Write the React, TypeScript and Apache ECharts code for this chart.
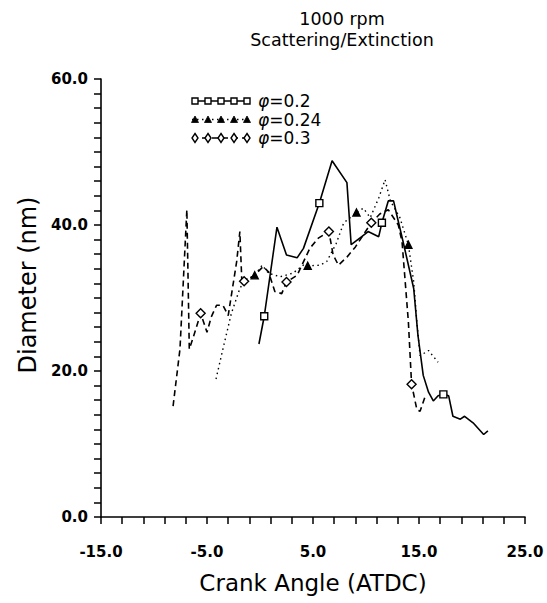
import React, { useEffect, useRef } from 'react';
import * as echarts from 'echarts';

// ---- texts ----
const TITLE_LINES = ['1000 rpm', 'Scattering/Extinction'];
const X_NAME = 'Crank Angle (ATDC)';
const Y_NAME = 'Diameter (nm)';
const PHI_VALUES = ['0.2', '0.24', '0.3'];

// ---- axes ----
const X_MIN = -15;
const X_MAX = 25;
const X_TICK_STEP = 2;
const X_LABEL_STEP = 10;
const Y_MIN = 0;
const Y_MAX = 60;
const Y_TICK_STEP = 2;
const Y_LABEL_STEP = 20;

// ---- series: phi = 0.2 (solid, squares) ----
const PHI02_X = [-0.1, 0.4, 1.6, 2.5, 3.5, 4.1, 5.6, 6.8, 8.2, 8.6, 9.6, 10.2, 11.2, 11.5, 12.1, 12.6, 12.9, 13.5, 14.5, 14.9, 15.4, 15.9, 16.35, 16.8, 17.3, 17.8, 18.2, 18.9, 19.3, 20.1, 21.1, 21.5];
const PHI02_Y = [23.7, 27.5, 39.7, 35.9, 35.5, 36.8, 43.0, 48.8, 45.8, 37.3, 38.4, 39.1, 38.4, 40.3, 43.3, 43.3, 41.4, 37.7, 31.3, 24.9, 19.4, 17.1, 15.9, 16.6, 16.8, 16.6, 13.8, 13.4, 13.8, 12.9, 11.3, 11.8];
const PHI02_MARKS = [1, 6, 13, 24];

// ---- series: phi = 0.24 (dotted, triangles) ----
const PHI024_X = [-4.15, -3.5, -2.7, -1.9, -1.4, -0.5, 0.2, 0.8, 1.9, 3.1, 4.1, 4.5, 5.7, 6.3, 7.2, 7.9, 9.1, 9.75, 10.4, 11.2, 11.8, 12.3, 13.2, 14.0, 14.5, 14.8, 15.1, 15.9, 16.8];
const PHI024_Y = [18.9, 23.0, 27.9, 31.3, 32.5, 33.1, 34.5, 33.4, 32.9, 33.4, 34.5, 34.4, 34.5, 35.0, 37.5, 40.3, 41.7, 42.3, 41.0, 43.7, 46.2, 43.3, 41.0, 37.3, 32.2, 26.7, 22.1, 22.8, 21.2];
const PHI024_MARKS = [5, 11, 16, 23];

// ---- series: phi = 0.3 (dashed, diamonds) ----
const PHI03_X = [-8.2, -7.55, -6.9, -6.67, -6.3, -5.6, -5.0, -4.6, -4.1, -3.5, -3.0, -2.2, -1.9, -1.7, -1.5, -0.6, 0.3, 0.8, 1.4, 2.05, 2.5, 3.5, 4.7, 5.5, 6.5, 6.9, 7.4, 8.2, 9.0, 10.5, 11.3, 12.1, 13.05, 13.4, 13.7, 14.0, 14.3, 14.8, 15.1, 15.6];
const PHI03_Y = [15.2, 23.0, 42.1, 23.0, 24.6, 27.9, 25.3, 27.4, 29.0, 29.0, 27.6, 35.0, 39.1, 31.8, 32.3, 33.0, 34.3, 33.6, 30.9, 30.6, 32.2, 33.1, 36.8, 38.2, 39.1, 35.9, 34.5, 35.6, 37.0, 40.3, 41.5, 42.1, 40.0, 37.7, 32.2, 26.7, 18.2, 14.7, 14.5, 16.6];
const PHI03_MARKS = [5, 14, 20, 24, 29, 36];

const FONT = '"DejaVu Sans", sans-serif';

type SeriesDef = {
  phi: string;
  xs: number[];
  ys: number[];
  marks: number[];
  symbol: string;
  symbolSize: number;
  fill: string;
  dash: 'solid' | number[];
  width: number;
};

const SERIES: SeriesDef[] = [
  { phi: PHI_VALUES[0], xs: PHI02_X, ys: PHI02_Y, marks: PHI02_MARKS, symbol: 'rect', symbolSize: 7, fill: '#fff', dash: 'solid', width: 1.6 },
  { phi: PHI_VALUES[1], xs: PHI024_X, ys: PHI024_Y, marks: PHI024_MARKS, symbol: 'triangle', symbolSize: 7, fill: '#000', dash: [1.5, 3.5], width: 1.4 },
  { phi: PHI_VALUES[2], xs: PHI03_X, ys: PHI03_Y, marks: PHI03_MARKS, symbol: 'diamond', symbolSize: 9, fill: '#fff', dash: [6, 4], width: 1.6 },
];

function legendGraphics() {
  const elems: any[] = [];
  const x0 = 192;
  const x1 = 250;
  SERIES.forEach((s, i) => {
    const y = 101 + i * 18.5;
    elems.push({
      type: 'line',
      shape: { x1: x0, y1: y, x2: x1, y2: y },
      style: { stroke: '#000', lineWidth: 1.4, lineDash: s.dash === 'solid' ? null : s.dash },
    });
    for (let k = 0; k < 5; k++) {
      const cx = x0 + 3 + k * 13;
      if (s.symbol === 'rect') {
        elems.push({ type: 'rect', shape: { x: cx - 3, y: y - 3, width: 6, height: 6 }, style: { fill: '#fff', stroke: '#000', lineWidth: 1.4 } });
      } else if (s.symbol === 'triangle') {
        elems.push({ type: 'polygon', shape: { points: [[cx, y - 3.5], [cx + 3.5, y + 3], [cx - 3.5, y + 3]] }, style: { fill: '#000', stroke: '#000', lineWidth: 0.8 } });
      } else {
        elems.push({ type: 'polygon', shape: { points: [[cx, y - 4.5], [cx + 3, y], [cx, y + 4.5], [cx - 3, y]] }, style: { fill: '#fff', stroke: '#000', lineWidth: 1.4 } });
      }
    }
    elems.push({
      type: 'text',
      x: 258,
      y,
      style: {
        text: '{p|φ}=' + s.phi,
        font: '17px ' + FONT,
        fill: '#000',
        verticalAlign: 'middle',
        rich: { p: { fontStyle: 'italic', fontSize: 17, fontFamily: FONT } },
      },
    });
  });
  return elems;
}

const isMultiple = (v: number, base: number, step: number) => {
  const r = Math.abs((v - base) / step);
  return Math.abs(r - Math.round(r)) < 1e-6;
};

export default function App() {
  const ref = useRef<HTMLDivElement>(null);
  useEffect(() => {
    if (!ref.current) return;
    document.body.style.margin = '0';
    const chart = echarts.init(ref.current, undefined, { renderer: 'svg' });
    const fmt = (v: number) => (v < 0 ? '-' + Math.abs(v).toFixed(1) : v.toFixed(1));
    const axisCommon = {
      axisLine: { show: true, onZero: false, lineStyle: { color: '#000', width: 1.6 } },
      axisTick: { show: true, inside: false, length: 7, lineStyle: { color: '#000', width: 1.5 } },
      splitLine: { show: false },
      axisLabel: { color: '#000', fontFamily: FONT, fontWeight: 'bold', fontSize: 15 },
      nameTextStyle: { color: '#000', fontFamily: FONT },
    };
    chart.setOption({
      animation: false,
      backgroundColor: '#fff',
      grid: { left: 101, right: 22, top: 79, bottom: 86, containLabel: false },
      xAxis: {
        type: 'value',
        min: X_MIN,
        max: X_MAX,
        interval: X_TICK_STEP,
        ...axisCommon,
        axisLabel: {
          ...axisCommon.axisLabel,
          margin: 27,
          formatter: (v: number) => (isMultiple(v, X_MIN, X_LABEL_STEP) ? fmt(v) : ''),
        },
        name: X_NAME,
        nameLocation: 'middle',
        nameGap: 54,
        nameTextStyle: { ...axisCommon.nameTextStyle, fontSize: 23 },
      },
      yAxis: {
        type: 'value',
        min: Y_MIN,
        max: Y_MAX,
        interval: Y_TICK_STEP,
        ...axisCommon,
        axisLabel: {
          ...axisCommon.axisLabel,
          margin: 13,
          formatter: (v: number) => (isMultiple(v, Y_MIN, Y_LABEL_STEP) ? fmt(v) : ''),
        },
        name: Y_NAME,
        nameLocation: 'middle',
        nameRotate: 90,
        nameGap: 50,
        nameTextStyle: { ...axisCommon.nameTextStyle, fontSize: 24, padding: [0, 0, 0, 26] },
      },
      graphic: [
        ...TITLE_LINES.map((t, i) => ({
          type: 'text',
          x: 342,
          y: 10 + i * 21,
          style: { text: t, font: '17.5px ' + FONT, fill: '#000', textAlign: 'center' },
        })),
        ...legendGraphics(),
      ],
      series: SERIES.map((s) => ({
        type: 'line',
        name: 'φ=' + s.phi,
        symbol: s.symbol,
        symbolSize: s.symbolSize,
        showSymbol: true,
        showAllSymbol: true,
        lineStyle: { color: '#000', width: s.width, type: s.dash },
        itemStyle: { color: s.fill, borderColor: '#000', borderWidth: 1.4 },
        emphasis: { disabled: true },
        data: s.xs.map((x, i) => ({
          value: [x, s.ys[i]],
          symbol: s.marks.includes(i) ? s.symbol : 'none',
        })),
      })),
    });
    return () => chart.dispose();
  }, []);
  return <div ref={ref} style={{ position: 'absolute', left: 0, top: 0, width: 547, height: 603 }} />;
}
